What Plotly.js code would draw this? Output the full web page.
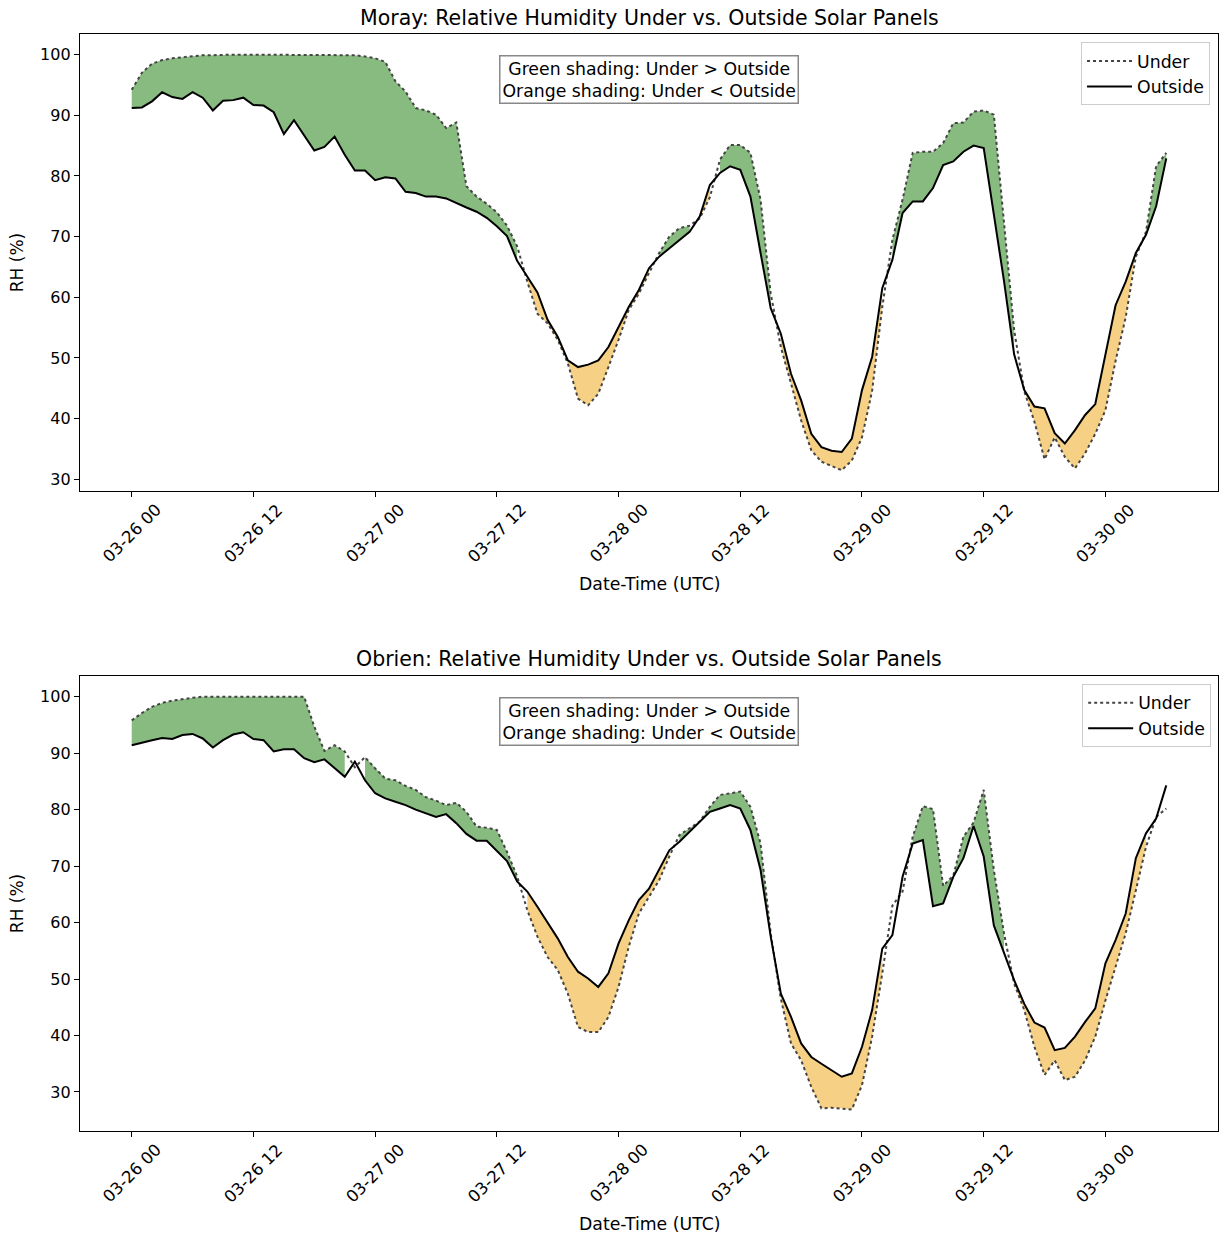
<!DOCTYPE html>
<html>
<head>
<meta charset="utf-8">
<script src="https://cdn.plot.ly/plotly-3.0.1.min.js"></script>
<style>html,body{margin:0;padding:0;background:#fff;}#chart{width:1225px;height:1236px;}</style>
</head>
<body>
<div id="chart"></div>
<script>
// ---- Data (hourly, starting 03-26 00 UTC) ----
const startTime = "2025-03-26T00:00:00Z";
const nHours = 103;

const morayUnder = [94.2,97.0,98.5,99.1,99.4,99.6,99.8,99.9,99.9,100.0,100.0,100.0,100.0,100.0,100.0,100.0,100.0,100.0,100.0,100.0,100.0,99.9,99.9,99.7,99.4,98.8,95.6,93.9,91.2,90.8,90.1,87.9,88.8,78.3,76.6,75.4,74.0,71.8,68.4,62.6,57.3,55.7,53.0,49.1,43.3,42.2,44.1,48.5,53.0,57.9,60.6,64.0,67.3,70.0,71.4,71.8,73.0,76.5,82.7,85.1,85.1,83.8,76.1,60.6,51.8,45.8,39.7,34.8,32.9,32.2,31.5,33.1,36.9,44.6,58.4,69.5,76.1,83.8,84.0,84.0,85.4,88.7,88.8,90.6,90.8,90.1,72.0,54.6,44.5,39.5,33.3,36.9,33.7,31.8,34.3,37.5,41.4,49.5,56.7,66.7,70.8,81.6,83.8];
const morayOutside = [91.2,91.3,92.3,93.8,93.0,92.7,93.8,92.9,90.8,92.4,92.5,92.9,91.7,91.6,90.5,86.9,89.2,86.6,84.2,84.8,86.5,83.5,80.9,80.9,79.3,79.8,79.6,77.4,77.2,76.6,76.6,76.3,75.5,74.8,74.1,73.1,71.7,70.1,66.0,63.4,60.8,56.3,53.5,49.6,48.5,48.9,49.6,51.8,55.1,58.4,61.2,64.8,66.7,68.1,69.5,70.8,73.3,78.5,80.5,81.6,81.0,76.6,67.3,58.2,54.0,47.4,43.0,37.5,35.3,34.7,34.5,36.7,44.7,50.2,61.5,66.2,73.9,75.8,75.8,78.0,81.8,82.4,84.0,85.0,84.6,73.7,62.7,50.6,44.7,42.0,41.7,37.6,35.9,38.1,40.6,42.4,50.6,58.7,62.6,67.3,70.3,75.0,82.9];

const obrienUnder = [95.8,97.1,98.2,98.9,99.3,99.6,99.8,100.0,100.0,100.0,100.0,100.0,100.0,100.0,100.0,100.0,100.0,100.0,94.7,90.4,91.4,90.3,87.5,89.3,87.3,85.5,85.2,84.2,83.5,82.2,81.6,80.8,81.2,79.6,77.0,76.8,76.4,72.5,68.2,62.2,57.5,53.9,51.6,47.4,41.5,40.6,40.6,43.3,48.6,55.7,61.6,64.6,67.5,71.7,75.5,76.7,77.9,80.5,82.6,82.9,83.2,80.5,74.0,58.1,46.5,38.6,35.6,30.9,27.1,27.2,27.1,26.9,31.2,39.8,51.0,63.0,65.5,75.2,80.6,80.1,66.5,68.3,75.2,77.7,83.5,69.3,58.1,49.2,44.5,38.0,33.0,35.6,32.1,32.7,35.6,39.8,46.2,52.2,58.1,65.7,73.4,78.7,80.2];
const obrienOutside = [91.4,91.9,92.3,92.7,92.5,93.2,93.4,92.6,91.0,92.3,93.3,93.7,92.5,92.3,90.3,90.7,90.7,89.1,88.4,88.9,87.3,85.8,88.5,85.2,82.9,82.0,81.4,80.8,80.0,79.3,78.7,79.2,77.6,75.7,74.5,74.5,72.7,70.9,67.3,65.5,62.8,59.9,57.2,53.9,51.3,50.1,48.6,51.0,56.3,60.4,64.0,66.0,69.3,72.8,74.3,76.1,77.8,79.6,80.2,80.8,80.2,76.4,69.3,57.5,47.4,43.3,38.6,36.2,35.0,33.8,32.7,33.3,38.0,44.5,55.4,57.8,68.1,74.0,74.6,62.9,63.4,68.1,71.4,77.1,71.7,59.5,54.5,49.8,45.6,42.3,41.4,37.4,37.8,39.8,42.4,44.8,52.8,56.9,61.6,71.4,75.8,78.4,84.3];

const siteNames = ["Moray", "Obrien"];
const tickTimes = ["2025-03-26 00:00","2025-03-26 12:00","2025-03-27 00:00","2025-03-27 12:00","2025-03-28 00:00","2025-03-28 12:00","2025-03-29 00:00","2025-03-29 12:00","2025-03-30 00:00"];
const tickLabels = ["03-26 00","03-26 12","03-27 00","03-27 12","03-28 00","03-28 12","03-29 00","03-29 12","03-30 00"];
const yTicks = [30,40,50,60,70,80,90,100];

// ---- helpers ----
const t0 = Date.parse(startTime);
function fmt(ms){
  const d = new Date(ms);
  const p = n => String(n).padStart(2,"0");
  return d.getUTCFullYear()+"-"+p(d.getUTCMonth()+1)+"-"+p(d.getUTCDate())+" "+p(d.getUTCHours())+":"+p(d.getUTCMinutes())+":"+p(d.getUTCSeconds());
}
const times = [];
for (let h = 0; h < nHours; h++) times.push(fmt(t0 + h*3600000));

const GREEN = "rgba(120,178,110,0.88)";
const ORANGE = "rgba(245,205,125,0.95)";

function fills(under, outside, xa, ya){
  const traces = [];
  const cond = [(u,o)=>u>o, (u,o)=>u<o];
  const cols = [GREEN, ORANGE];
  for (let c = 0; c < 2; c++){
    let i = 0;
    while (i < under.length){
      if (cond[c](under[i], outside[i])){
        let j = i;
        while (j+1 < under.length && cond[c](under[j+1], outside[j+1])) j++;
        if (j > i){
          const xs = [], ys = [];
          for (let k = i; k <= j; k++){ xs.push(times[k]); ys.push(under[k]); }
          for (let k = j; k >= i; k--){ xs.push(times[k]); ys.push(outside[k]); }
          traces.push({x: xs, y: ys, xaxis: xa, yaxis: ya, type: "scatter", mode: "lines",
            fill: "toself", fillcolor: cols[c], line: {width: 0}, showlegend: false, hoverinfo: "skip"});
        }
        i = j + 1;
      } else i++;
    }
  }
  return traces;
}

const data = [];
const sets = [[morayUnder, morayOutside, "x", "y", "legend"], [obrienUnder, obrienOutside, "x2", "y2", "legend2"]];
sets.forEach(s => { data.push(...fills(s[0], s[1], s[2], s[3])); });
sets.forEach(s => {
  data.push({x: times, y: s[0], xaxis: s[2], yaxis: s[3], type: "scatter", mode: "lines", name: "Under",
    line: {color: "#444444", width: 2, dash: "dot"}, legend: s[4]});
  data.push({x: times, y: s[1], xaxis: s[2], yaxis: s[3], type: "scatter", mode: "lines", name: "Outside",
    line: {color: "#000000", width: 2}, legend: s[4]});
});

const xr = [fmt(t0 - 5.1*3600000), fmt(t0 + 107.1*3600000)];
const F = "DejaVu Sans, Arial, sans-serif";
function xaxis(anchor){
  return {anchor: anchor, range: xr, type: "date", tickvals: tickTimes, showticklabels: false,
    ticks: "outside", ticklen: 5, tickwidth: 1, tickcolor: "#000",
    showline: true, linecolor: "#000", linewidth: 1.2, mirror: true, showgrid: false, zeroline: false};
}
function yaxis(anchor, domain, range){
  return {anchor: anchor, domain: domain, range: range, tickvals: yTicks,
    ticks: "outside", ticklen: 5, tickwidth: 1, tickcolor: "#000",
    showline: true, linecolor: "#000", linewidth: 1.2, mirror: true, showgrid: false, zeroline: false,
    tickfont: {size: 16, color: "#000"}, title: {text: "RH (%)", font: {size: 17, color: "#000"}, standoff: 12}};
}

const annText = "Green shading: Under &gt; Outside<br>Orange shading: Under &lt; Outside";
const annotations = [];
[["x","y",1.035,-0.0175,-0.2035],["x2","y2",1.037,-0.0176,-0.2044]].forEach((a, idx) => {
  annotations.push({xref: a[0]+" domain", yref: a[1]+" domain", x: 0.5, y: a[2],
    text: siteNames[idx] + ": Relative Humidity Under vs. Outside Solar Panels",
    showarrow: false, xanchor: "center", yanchor: "middle", font: {size: 20.5}});
  annotations.push({xref: a[0]+" domain", yref: a[1]+" domain", x: 0.5, y: 0.954, text: annText, showarrow: false,
    xanchor: "center", yanchor: "top", align: "center", font: {size: 17.3}, bordercolor: "#888", borderwidth: 1.5, borderpad: 2, bgcolor: "#fff"});
  tickLabels.forEach((lab, i) => {
    annotations.push({xref: a[0], yref: a[1]+" domain", x: tickTimes[i], y: a[3], text: lab, textangle: -45,
      showarrow: false, xanchor: "center", yanchor: "top", font: {size: 16.5}, borderpad: 0});
  });
  annotations.push({xref: a[0]+" domain", yref: a[1]+" domain", x: 0.5, y: a[4], text: "Date-Time (UTC)",
    showarrow: false, xanchor: "center", yanchor: "middle", font: {size: 17.3}});
});

const layout = {
  width: 1225, height: 1236,
  margin: {l: 80, r: 7, t: 34, b: 105},
  paper_bgcolor: "#fff", plot_bgcolor: "#fff",
  font: {family: F, color: "#000"},
  xaxis: xaxis("y"),
  yaxis: yaxis("x", [0.5834, 1], [28.07, 103.4]),
  xaxis2: xaxis("y2"),
  yaxis2: yaxis("x2", [0, 0.4148], [23.09, 103.67]),
  legend: {x: 0.993, xanchor: "right", y: 0.9925, yanchor: "top", bgcolor: "#fff", itemwidth: 45,
    bordercolor: "#cccccc", borderwidth: 1, font: {size: 17.3}, tracegroupgap: 0},
  legend2: {x: 0.994, xanchor: "right", y: 0.4075, yanchor: "top", bgcolor: "#fff", itemwidth: 45,
    bordercolor: "#cccccc", borderwidth: 1, font: {size: 17.3}, tracegroupgap: 0},
  annotations: annotations
};

Plotly.newPlot("chart", data, layout, {displayModeBar: false, staticPlot: true});
</script>
</body>
</html>
